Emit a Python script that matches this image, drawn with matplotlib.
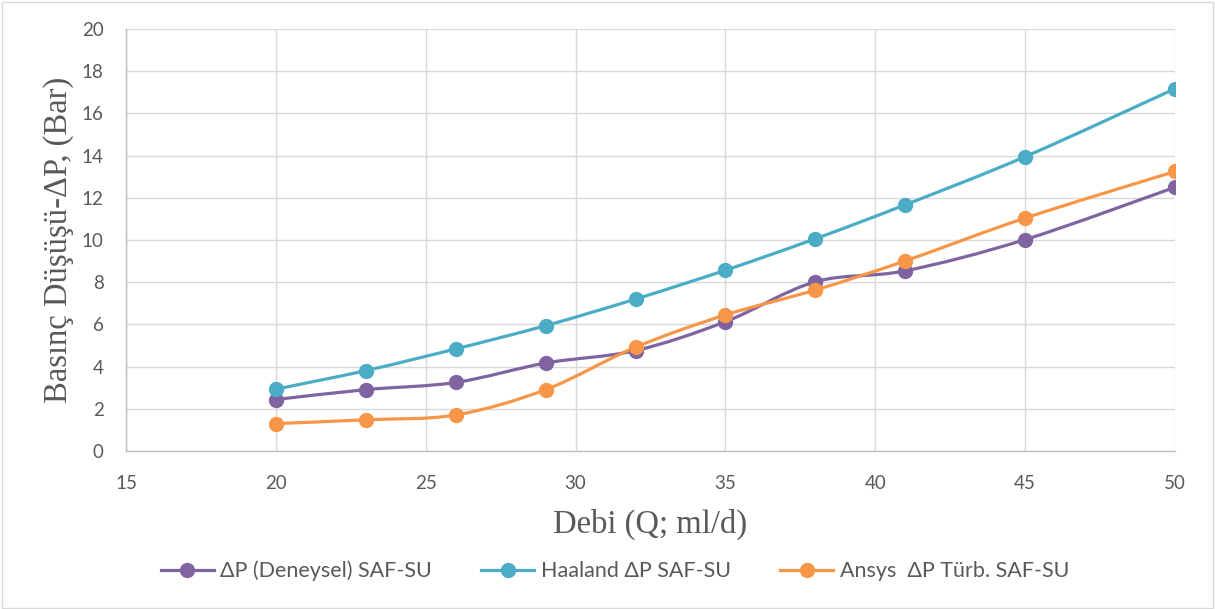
import numpy as np
import matplotlib
matplotlib.use("Agg")
import matplotlib.pyplot as plt
from matplotlib.path import Path
from matplotlib.patches import PathPatch, Rectangle
from matplotlib.lines import Line2D

# chart data
debi = [20, 23, 26, 29, 32, 35, 38, 41, 45, 50]
dp_deneysel = [2.44, 2.91, 3.25, 4.17, 4.76, 6.13, 8.02, 8.54, 10.02, 12.50]
dp_haaland = [2.93, 3.81, 4.84, 5.94, 7.20, 8.57, 10.06, 11.67, 13.95, 17.17]
dp_ansys = [1.30, 1.48, 1.71, 2.91, 4.92, 6.45, 7.63, 9.01, 11.04, 13.25]

labels = ["ΔP (Deneysel) SAF-SU", "Haaland ΔP SAF-SU", "Ansys  ΔP Türb. SAF-SU"]
colors = ["#8064A2", "#4BACC6", "#F79646"]
xticks = [15, 20, 25, 30, 35, 40, 45, 50]
yticks = [0, 2, 4, 6, 8, 10, 12, 14, 16, 18, 20]

GRAY = "#595959"


def smooth_path(x, y, tension=1 / 6):
    # Excel style smoothed line, drawn as cubic bezier segments
    pts = np.column_stack([x, y]).astype(float)
    verts = [pts[0]]
    codes = [Path.MOVETO]
    n = len(pts)
    for i in range(n - 1):
        p0 = pts[i - 1] if i > 0 else pts[i]
        p1 = pts[i]
        p2 = pts[i + 1]
        p3 = pts[i + 2] if i + 2 < n else pts[i + 1]
        c1 = p1 + (p2 - p0) * tension
        c2 = p2 - (p3 - p1) * tension
        verts += [c1, c2, p2]
        codes += [Path.CURVE4] * 3
    return Path(verts, codes)


fig = plt.figure(figsize=(12.15, 6.09), dpi=100)
fig.patches.append(Rectangle((0.002, 0.002), 0.996, 0.995, transform=fig.transFigure,
                             fill=False, edgecolor="#d9d9d9", linewidth=1))
ax = fig.add_axes([0.1037, 0.2594, 0.8634, 0.693])

series = [dp_deneysel, dp_haaland, dp_ansys]
for vals, c in zip(series, colors):
    ax.add_patch(PathPatch(smooth_path(debi, vals), facecolor="none", edgecolor=c,
                           linewidth=2.3, zorder=3, capstyle="round", joinstyle="round"))
    ax.plot(debi, vals, linestyle="none", marker="o", markersize=10, color=c, zorder=4)

ax.set_xlim(15, 50)
ax.set_ylim(0, 20)
ax.set_xticks(xticks)
ax.set_yticks(yticks)
ax.grid(True, color="#d9d9d9", linewidth=1)
ax.set_axisbelow(True)
for s in ["top", "right"]:
    ax.spines[s].set_visible(False)
for s in ["left", "bottom"]:
    ax.spines[s].set_color("#bfbfbf")
    ax.spines[s].set_linewidth(1)
ax.tick_params(length=0, labelsize=13.5, labelcolor=GRAY)
ax.tick_params(axis="x", pad=17)
ax.tick_params(axis="y", pad=16)
for lab in ax.get_xticklabels() + ax.get_yticklabels():
    lab.set_family("Lato")

ax.set_xlabel("Debi (Q; ml/d)", family="Liberation Serif", fontsize=23.5, color=GRAY, labelpad=12)
ax.set_ylabel("Basınç Düşüşü-ΔP, (Bar)", family="Liberation Serif", fontsize=23.5, color=GRAY,
              labelpad=6)

handles = [Line2D([], [], color=c, linewidth=2.3, marker="o", markersize=10) for c in colors]
fig.legend(handles, labels, loc="center", bbox_to_anchor=(0.506, 0.0624), ncol=3, frameon=False,
           prop={"family": "Lato", "size": 15.5}, labelcolor=GRAY, handlelength=2.46,
           handletextpad=0.3, columnspacing=2.3)

fig.savefig("out.png", dpi=100)
